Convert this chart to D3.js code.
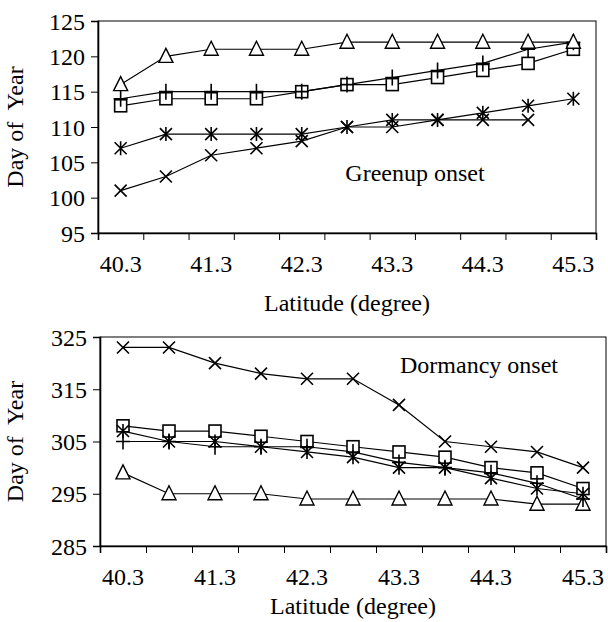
<!DOCTYPE html>
<html>
<head>
<meta charset="utf-8">
<script src="https://cdn.jsdelivr.net/npm/d3@7"></script>
<style>
  body { margin: 0; background: #fff; }
  svg { display: block; }
</style>
</head>
<body>
<div id="chart"></div>
<script>
// latitude categories (every other one gets a label)
var latitudes = [40.3, 40.8, 41.3, 41.8, 42.3, 42.8, 43.3, 43.8, 44.3, 44.8, 45.3];
var latLabels = ["40.3", "41.3", "42.3", "43.3", "44.3", "45.3"];

// greenup onset (day of year)
var greenTriangle = [116, 120, 121, 121, 121, 122, 122, 122, 122, 122, 122];
var greenPlus     = [114, 115, 115, 115, 115, 116, 117, 118, 119, 121, 122];
var greenSquare   = [113, 114, 114, 114, 115, 116, 116, 117, 118, 119, 121];
var greenStar     = [107, 109, 109, 109, 109, 110, 111, 111, 112, 113, 114];
var greenCross    = [101, 103, 106, 107, 108, 110, 110, 111, 111, 111, null];
var greenTicks    = [95, 100, 105, 110, 115, 120, 125];

// dormancy onset (day of year)
var dormCross     = [323, 323, 320, 318, 317, 317, 312, 305, 304, 303, 300];
var dormSquare    = [308, 307, 307, 306, 305, 304, 303, 302, 300, 299, 296];
var dormStar      = [307, 305, 305, 304, 303, 302, 300, 300, 298, 296, 295];
var dormPlus      = [305, 305, 304, 304, 304, 303, 301, 300, 299, 297, 294];
var dormTriangle  = [299, 295, 295, 295, 294, 294, 294, 294, 294, 293, 293];
var dormTicks     = [285, 295, 305, 315, 325];

var FONT = '"Liberation Serif", "Times New Roman", "DejaVu Serif", serif';

var W = 608, H = 622;
var svg = d3.select('#chart').append('svg')
    .attr('width', W)
    .attr('height', H)
    .style('font-family', FONT);

//marker shapes, drawn around (0,0)
function marker(g, kind) {
  var s = 7;
  if (kind == 'triangle') {
    g.append('path')
      .attr('d', 'M0,' + (-s - 1) + 'L' + s + ',' + (s - 1) + 'L' + (-s) + ',' + (s - 1) + 'Z')
      .attr('fill', '#fff').attr('stroke', '#000').attr('stroke-width', 1.4);
  } else if (kind == 'square') {
    g.append('rect')
      .attr('x', -6).attr('y', -6).attr('width', 12).attr('height', 12)
      .attr('fill', '#fff').attr('stroke', '#000').attr('stroke-width', 1.6);
  } else {
    var d = '';
    if (kind == 'cross' || kind == 'star') d += 'M-6,-6L6,6M-6,6L6,-6';
    if (kind == 'star') d += 'M0,-7L0,7';
    if (kind == 'plus') d += 'M0,-8L0,8M-7,0L7,0';
    g.append('path').attr('d', d)
      .attr('fill', 'none').attr('stroke', '#000').attr('stroke-width', 1.6);
  }
}

function addText(g, str) {
  return g.append('text')
    .style('font-family', FONT)
    .style('font-size', '24px')
    .attr('fill', '#000')
    .text(str);
}

function panel(opt) {
  var x = d3.scaleLinear()
      .domain([-0.5, latitudes.length - 0.5])
      .range([opt.left, opt.right]);
  var y = d3.scaleLinear()
      .domain([opt.ticks[0], opt.ticks[opt.ticks.length - 1]])
      .range([opt.bottom, opt.top]);

  var g = svg.append('g');

  //frame
  g.append('rect')
    .attr('x', opt.left).attr('y', opt.top)
    .attr('width', opt.right - opt.left).attr('height', opt.bottom - opt.top)
    .attr('fill', 'none').attr('stroke', '#000').attr('stroke-width', 1);

  //y axis
  var yAxis = g.append('g')
    .attr('transform', 'translate(' + opt.left + ',0)')
    .call(d3.axisLeft(y).tickValues(opt.ticks).tickSize(7).tickPadding(6).tickFormat(d3.format('d')));
  yAxis.attr('font-family', null).attr('font-size', null);
  yAxis.select('.domain').attr('stroke-width', 1.6);
  yAxis.selectAll('text')
    .style('font-size', '24px')
    .style('font-family', FONT)
    .attr('dy', '0.34em');

  //x axis: tick marks on category boundaries
  var bounds = d3.range(latitudes.length + 1).map(function(i) { return i - 0.5; });
  var xAxis = g.append('g')
    .attr('transform', 'translate(0,' + opt.bottom + ')')
    .call(d3.axisBottom(x).tickValues(bounds).tickSize(7).tickFormat(''));
  xAxis.select('.domain').attr('stroke-width', 1.6);

  //x labels on every other category
  latLabels.forEach(function(d) {
    addText(g, d)
      .attr('x', x(latitudes.indexOf(+d)))
      .attr('y', opt.bottom + 39)
      .attr('text-anchor', 'middle');
  });

  addText(g, 'Latitude (degree)')
    .attr('x', (opt.left + opt.right) / 2)
    .attr('y', opt.titleY)
    .attr('text-anchor', 'middle');

  addText(g, 'Day of\u00a0 Year')
    .attr('transform', 'translate(23,' + ((opt.top + opt.bottom) / 2) + ') rotate(-90)')
    .attr('text-anchor', 'middle');

  addText(g, opt.note)
    .attr('x', opt.noteX).attr('y', opt.noteY)
    .attr('text-anchor', 'middle');

  var line = d3.line()
    .defined(function(d) { return d != null; })
    .x(function(d, i) { return x(i); })
    .y(function(d) { return y(d); });

  opt.series.forEach(function(s) {
    g.append('path')
      .datum(s.values)
      .attr('d', line)
      .attr('fill', 'none')
      .attr('stroke', '#000')
      .attr('stroke-width', 1.2);
  });
  opt.series.forEach(function(s) {
    s.values.forEach(function(v, i) {
      if (v == null) return;
      var m = g.append('g').attr('transform', 'translate(' + x(i) + ',' + y(v) + ')');
      marker(m, s.kind);
    });
  });
}

panel({
  left: 98, right: 596, top: 21, bottom: 233,
  ticks: greenTicks, titleY: 311,
  note: 'Greenup onset', noteX: 415, noteY: 181,
  series: [
    {values: greenCross, kind: 'cross'},
    {values: greenStar, kind: 'star'},
    {values: greenSquare, kind: 'square'},
    {values: greenPlus, kind: 'plus'},
    {values: greenTriangle, kind: 'triangle'}
  ]
});

panel({
  left: 100, right: 606, top: 337, bottom: 546,
  ticks: dormTicks, titleY: 614,
  note: 'Dormancy onset', noteX: 479, noteY: 373,
  series: [
    {values: dormTriangle, kind: 'triangle'},
    {values: dormSquare, kind: 'square'},
    {values: dormPlus, kind: 'plus'},
    {values: dormStar, kind: 'star'},
    {values: dormCross, kind: 'cross'}
  ]
});
</script>
</body>
</html>
